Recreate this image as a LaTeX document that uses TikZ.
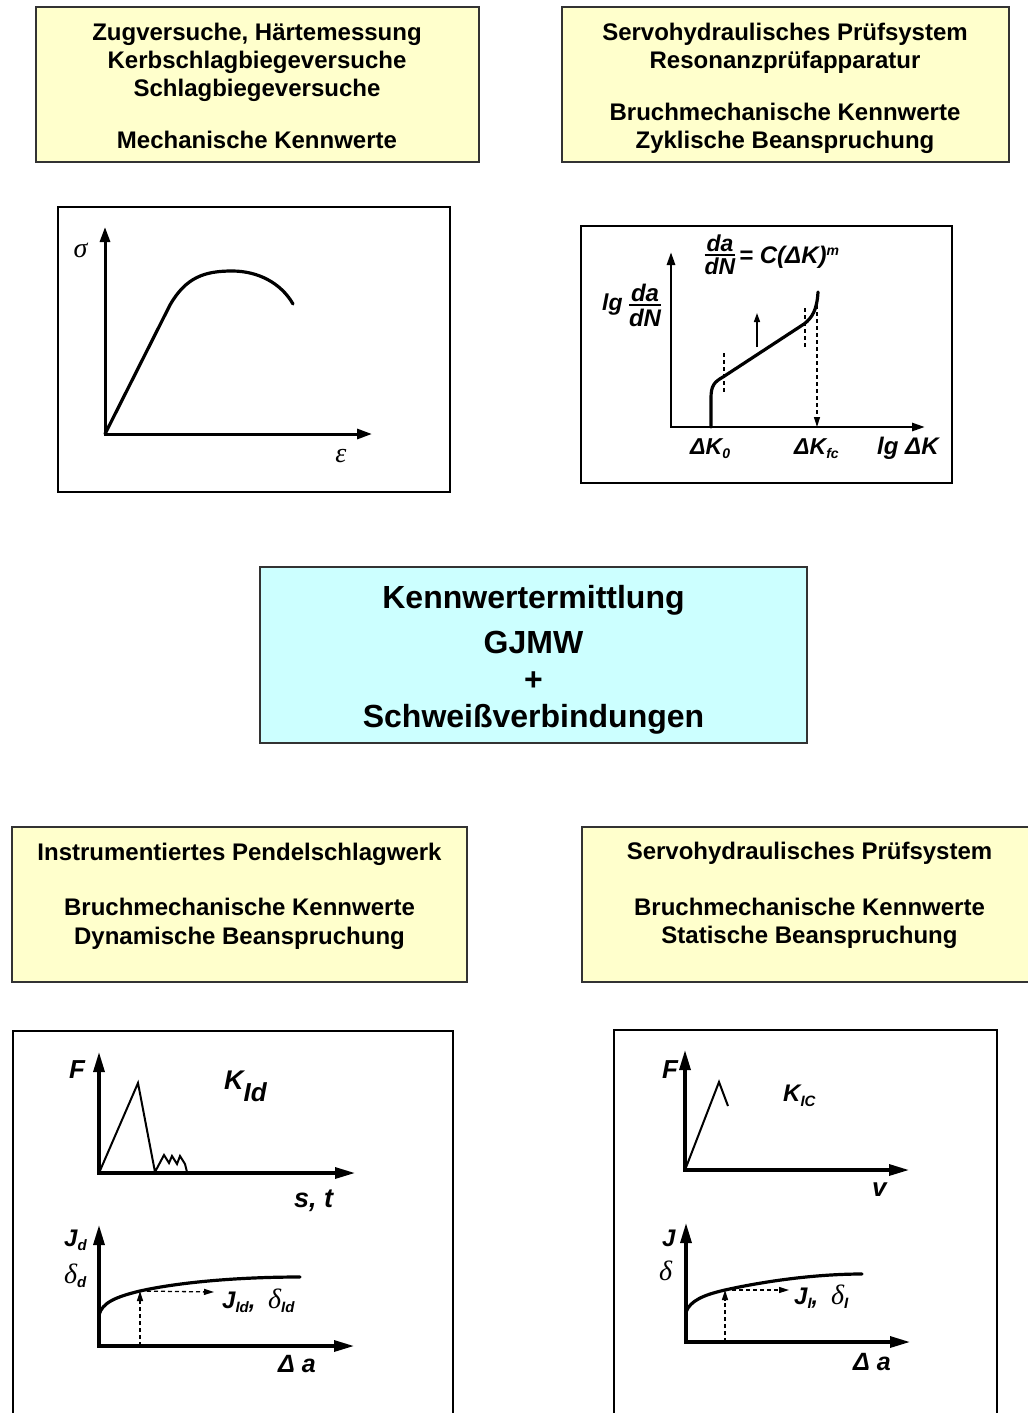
\documentclass[tikz,border=0pt]{standalone}
\usepackage{fontspec}
\setmainfont{Liberation Sans}
\newfontfamily\grkfont{Liberation Serif}
\usetikzlibrary{arrows.meta}
\definecolor{boxyellow}{HTML}{FFFFCC}
\definecolor{boxcyan}{HTML}{CCFFFF}
\definecolor{boxframe}{HTML}{333333}
\newcommand{\fs}[1]{\fontsize{#1}{#1}\selectfont}
\newcommand{\sub}[3]{\raisebox{-#1}{\fs{#2}#3}}
\newcommand{\grkd}[1]{{\fs{#1}\grkfont\mdseries\itshape δ}}
\begin{document}
\begin{tikzpicture}[x=1pt,y=-1pt,
  ybox/.style={draw=boxframe, line width=2pt, fill=boxyellow, inner sep=0pt, outer sep=0pt, anchor=north west},
  cbox/.style={draw=boxframe, line width=2.5pt, fill=boxcyan, inner sep=0pt, outer sep=0pt, anchor=north west},
  chartbox/.style={draw=black, line width=2.5pt, fill=white, inner sep=0pt, outer sep=0pt, anchor=north west},
  chartframe/.style={draw=black, line width=2.5pt},
  hd/.style={font=\fs{24}\bfseries, anchor=base, inner sep=0pt},
  hdbig/.style={font=\fs{32}\bfseries, anchor=base, inner sep=0pt},
  lbl/.style={inner sep=0pt, anchor=base west},
  axisA/.style={line width=3pt, {Triangle[length=15pt,width=10pt]}-{Triangle[length=15pt,width=10pt]}},
  axisB/.style={line width=2.7pt, {Triangle[length=13pt,width=8pt]}-{Triangle[length=13pt,width=8pt]}},
  axisC/.style={line width=3.2pt, {Triangle[length=20pt,width=11pt]}-{Triangle[length=20pt,width=11pt]}},
  curve/.style={line width=3.2pt, line cap=round, line join=round},
  thin/.style={line width=2pt, line join=miter},
  dsh/.style={line width=1.3pt, dash pattern=on 4pt off 3pt},
  dsharrow/.style={line width=1.3pt, dash pattern=on 4pt off 3pt, -{Triangle[length=10pt,width=6pt]}}
]
\useasboundingbox (0,0) rectangle (1028,1413);

% ---------- text boxes ----------
\node[ybox, minimum width=443, minimum height=155] (tlbox) at (36,7) {};
\node[hd] (tl1) at (257,40.5) {Zugversuche, Härtemessung};
\node[hd] (tl2) at (257,68.5) {Kerbschlagbiegeversuche};
\node[hd] (tl3) at (257,96) {Schlagbiegeversuche};
\node[hd] (tl4) at (257,148.5) {Mechanische Kennwerte};

\node[ybox, minimum width=447, minimum height=155] (trbox) at (562,7) {};
\node[hd] (tr1) at (785,40.5) {Servohydraulisches Prüfsystem};
\node[hd] (tr2) at (785,68.5) {Resonanzprüfapparatur};
\node[hd] (tr3) at (785,120.5) {Bruchmechanische Kennwerte};
\node[hd] (tr4) at (785,148) {Zyklische Beanspruchung};

\node[cbox, minimum width=547, minimum height=176] (mid) at (260,567) {};
\node[hdbig] (m1) at (533.5,608) {Kennwertermittlung};
\node[hdbig] (m2) at (533.5,653) {GJMW};
\node[hdbig] (m3) at (533.5,690) {+};
\node[hdbig] (m4) at (533.5,727) {Schweißverbindungen};

\node[ybox, minimum width=455, minimum height=155] (blbox) at (12,827) {};
\node[hd] (bl1) at (239.5,860.5) {Instrumentiertes Pendelschlagwerk};
\node[hd] (bl2) at (239.5,915.5) {Bruchmechanische Kennwerte};
\node[hd] (bl3) at (239.5,944) {Dynamische Beanspruchung};

\coordinate (brbox) at (582,827);
\fill[boxyellow] (582,827) rectangle (1028,982);
\draw[boxframe, line width=2pt] (1028,827) -- (brbox) -- (582,982) -- (1028,982);
\node[hd] (br1) at (809.5,859.5) {Servohydraulisches Prüfsystem};
\node[hd] (br2) at (809.5,915) {Bruchmechanische Kennwerte};
\node[hd] (br3) at (809.5,943) {Statische Beanspruchung};

% ---------- chart 1: stress-strain ----------
\node[chartbox, minimum width=392, minimum height=285] (ch1) at (58,207) {};
\coordinate (o1) at (105,434);
\coordinate (y1) at (105,227);
\coordinate (x1) at (372,434);
\draw[axisA] (y1) -- (o1) -- (x1);
\draw[curve] (o1) -- (170,305) .. controls (186,277) and (205,271) .. (232,271) .. controls (258,271) and (281,283) .. (293,304);
\node[font=\fs{28}\grkfont\itshape, inner sep=0pt] (sig) at (80.5,250) {σ};
\node[font=\fs{28}\grkfont\itshape, inner sep=0pt] (eps) at (341,456) {ε};

% ---------- chart 2: crack growth ----------
\node[chartbox, minimum width=371, minimum height=257] (ch2) at (581,226) {};
\coordinate (o2) at (671,427);
\coordinate (y2) at (671,252);
\coordinate (x2) at (925,427);
\draw[axisB] (y2) -- (o2) -- (x2);
\draw[curve] (711,427) -- (711,398) .. controls (711,386) and (714,382) .. (723,377) -- (804,324) .. controls (812,318) and (817,310) .. (818,292);
\draw[dsh] (724,353) -- (724,392);
\draw[dsh] (805,308) -- (805,347);
\coordinate (kfcTop) at (817,305);
\coordinate (kfcAx) at (817,427);
\draw[dsharrow] (kfcTop) -- (kfcAx);
\coordinate (upA) at (757,347);
\coordinate (upB) at (757,313);
\draw[line width=1.5pt, -{Triangle[length=9pt,width=6pt]}] (upA) -- (upB);
\node[font=\fs{23}\bfseries\itshape, inner sep=0pt] (frac1) at (720,255) {$\mbox{da}\above 2.2pt\mbox{dN}$};
\node[lbl, font=\fs{24}\bfseries\itshape] (frm) at (739,263) {= C(ΔK)\raisebox{8pt}{\fs{14}m}};
\node[lbl, font=\fs{23}\bfseries\itshape] (lg1) at (602,310) {lg};
\node[font=\fs{24}\bfseries\itshape, inner sep=0pt] (frac2) at (645,305) {$\mbox{da}\above 2.5pt\mbox{dN}$};
\node[lbl, font=\fs{23}\bfseries\itshape] (dk0) at (690,454) {ΔK\sub{4pt}{14}{0}};
\node[lbl, font=\fs{23}\bfseries\itshape] (dkfc) at (794,454) {ΔK\sub{4pt}{14}{fc}};
\node[lbl, font=\fs{24}\bfseries\itshape] (lgdk) at (877,454) {lg ΔK};

% ---------- chart 3: impact ----------
\coordinate (ch3) at (13,1031);
\draw[chartframe] (13,1413) -- (ch3) -- (453,1031) -- (453,1413);
\coordinate (o3) at (99,1173);
\coordinate (y3) at (99,1052);
\coordinate (x3) at (355,1173);
\draw[axisC] (y3) -- (o3) -- (x3);
\draw[thin] (o3) -- (138,1083) -- (155,1172) -- (164,1155) -- (169,1163) -- (172,1156) -- (177,1164) -- (180,1156) -- (185,1164) -- (187,1172);
\node[lbl, font=\fs{26}\bfseries\itshape] (blF) at (69,1078) {F};
\node[lbl, font=\fs{27}\bfseries\itshape] (blK) at (224,1089) {K\sub{12pt}{26}{Id}};
\node[lbl, font=\fs{27}\bfseries\itshape] (blst) at (294,1207) {s, t};
\coordinate (o4) at (99,1346);
\coordinate (y4) at (99,1225);
\coordinate (x4) at (354,1346);
\draw[axisC] (y4) -- (o4) -- (x4);
\coordinate (c4) at (140,1291);
\draw[curve] (99,1315) .. controls (102,1303) and (115,1297) .. (c4) .. controls (180,1282) and (240,1277) .. (300,1277);
\coordinate (b4) at (140,1346);
\coordinate (r4) at (214,1292);
\draw[dsharrow] (b4) -- (c4);
\draw[dsharrow] (c4) -- (r4);
\node[lbl, font=\fs{24}\bfseries\itshape] (blJ) at (64,1246) {J\sub{4pt}{15}{d}};
\node[lbl, font=\fs{24}\bfseries\itshape] (bldel) at (64,1283) {\grkd{28}\sub{4pt}{15}{d}};
\node[lbl, font=\fs{24}\bfseries\itshape] (blJId) at (222,1308) {J\sub{4pt}{15}{Id}, \hspace{6pt}\grkd{28}\sub{4pt}{15}{Id}};
\node[lbl, font=\fs{25}\bfseries\itshape] (blda) at (278,1372) {Δ a};

% ---------- chart 4: static ----------
\coordinate (ch4) at (614,1030);
\draw[chartframe] (614,1413) -- (ch4) -- (997,1030) -- (997,1413);
\coordinate (o5) at (685,1170);
\coordinate (y5) at (685,1050);
\coordinate (x5) at (909,1170);
\draw[axisC] (y5) -- (o5) -- (x5);
\draw[thin] (o5) -- (719,1082) -- (728,1106);
\node[lbl, font=\fs{26}\bfseries\itshape] (brF) at (662,1078) {F};
\node[lbl, font=\fs{24}\bfseries\itshape] (brK) at (783,1101) {K\sub{5pt}{15}{IC}};
\node[lbl, font=\fs{26}\bfseries\itshape] (brv) at (872,1196) {v};
\coordinate (o6) at (686,1342);
\coordinate (y6) at (686,1223);
\coordinate (x6) at (910,1342);
\draw[axisC] (y6) -- (o6) -- (x6);
\coordinate (c6) at (725,1290);
\draw[curve] (686,1312) .. controls (690,1301) and (703,1295) .. (c6) .. controls (770,1280) and (820,1274) .. (862,1274);
\coordinate (b6) at (725,1342);
\coordinate (r6) at (789,1290);
\draw[dsharrow] (b6) -- (c6);
\draw[dsharrow] (c6) -- (r6);
\node[lbl, font=\fs{24}\bfseries\itshape] (brJ) at (662,1246) {J};
\node[lbl, font=\fs{28}\grkfont\itshape] (brdel) at (659,1280) {δ};
\node[lbl, font=\fs{24}\bfseries\itshape] (brJI) at (794,1304) {J\sub{4pt}{15}{I}, \hspace{6pt}\grkd{28}\sub{4pt}{15}{I}};
\node[lbl, font=\fs{25}\bfseries\itshape] (brda) at (853,1370) {Δ a};
\end{tikzpicture}
\end{document}
